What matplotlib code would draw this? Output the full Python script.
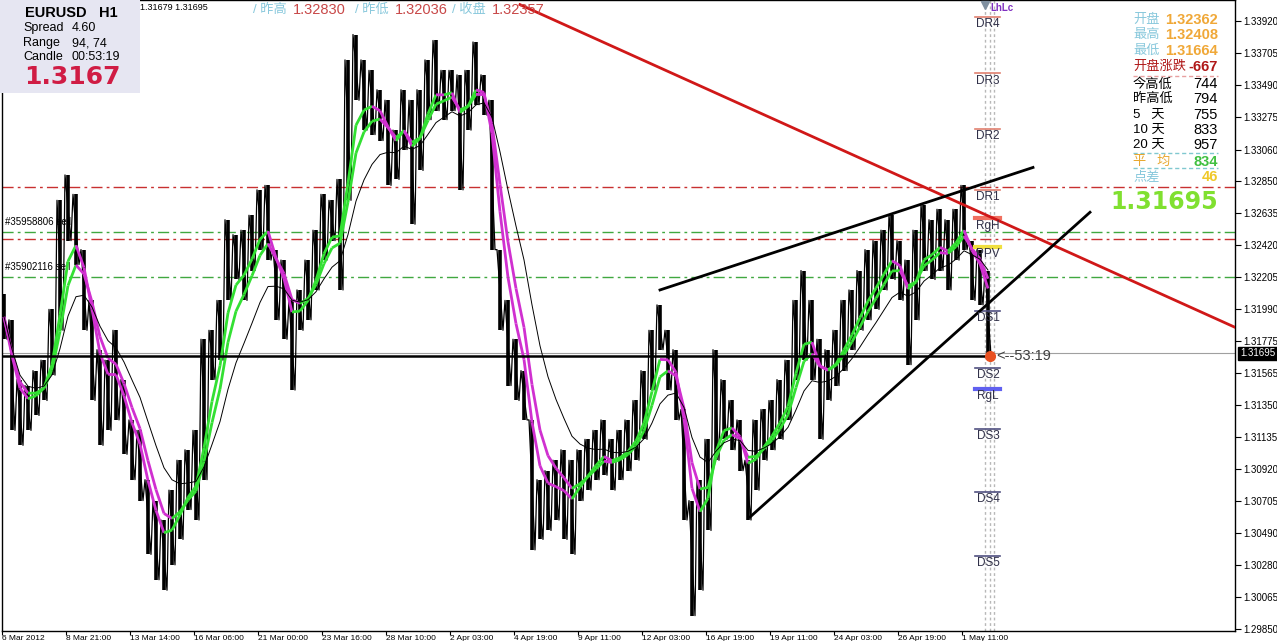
import numpy as np
import pandas as pd
import matplotlib.pyplot as plt
from matplotlib.collections import LineCollection
from matplotlib.patches import Rectangle
import matplotlib.transforms as mtransforms

plt.rcParams['font.family'] = ['Liberation Sans', 'Noto Sans CJK SC', 'DejaVu Sans']

W, H = 1277, 641

# EURUSD H1, each sample = 8 hourly bars (high / low of the group)
high = [1.3209, 1.3192, 1.3152, 1.3148, 1.3158, 1.3165, 1.3199, 1.3272, 1.3289, 1.3276,
        1.3239, 1.3205, 1.3172, 1.3165, 1.3185, 1.3152, 1.3125, 1.3118, 1.3085, 1.3071,
        1.3058, 1.3078, 1.3098, 1.3105, 1.3118, 1.3179, 1.3185, 1.3205, 1.3259, 1.3249,
        1.3252, 1.3262, 1.3279, 1.3282, 1.3239, 1.3232, 1.3205, 1.3212, 1.3232, 1.3252,
        1.3276, 1.3272, 1.3286, 1.3366, 1.3383, 1.3366, 1.3359, 1.3346, 1.3339, 1.3319,
        1.3346, 1.3339, 1.3346, 1.3366, 1.3379, 1.3359, 1.3359, 1.3356, 1.3359, 1.3378,
        1.3356, 1.3339, 1.3239, 1.3205, 1.3179, 1.3158, 1.3125, 1.3085, 1.3091, 1.3098,
        1.3105, 1.3098, 1.3105, 1.3112, 1.3118, 1.3125, 1.3112, 1.3118, 1.3125, 1.3138,
        1.3158, 1.3185, 1.3202, 1.3185, 1.3172, 1.3132, 1.3071, 1.3085, 1.3112, 1.3172,
        1.3152, 1.3138, 1.3125, 1.3098, 1.3125, 1.3132, 1.3138, 1.3152, 1.3165, 1.3205,
        1.3225, 1.3205, 1.3179, 1.3172, 1.3185, 1.3205, 1.3212, 1.3225, 1.3239, 1.3245,
        1.3252, 1.3262, 1.3245, 1.3232, 1.3252, 1.3269, 1.3259, 1.3266, 1.3259, 1.3266,
        1.3282, 1.3245, 1.3239, 1.3225]
low = [1.3179, 1.3118, 1.3108, 1.3118, 1.3128, 1.3138, 1.3155, 1.3185, 1.3245, 1.3229,
       1.3185, 1.3138, 1.3108, 1.3118, 1.3125, 1.3102, 1.3085, 1.3071, 1.3035, 1.3018,
       1.3011, 1.3028, 1.3045, 1.3065, 1.3058, 1.3085, 1.3152, 1.3165, 1.3205, 1.3219,
       1.3205, 1.3225, 1.3239, 1.3232, 1.3192, 1.3179, 1.3145, 1.3185, 1.3192, 1.3212,
       1.3232, 1.3245, 1.3212, 1.3272, 1.3339, 1.3319, 1.3316, 1.3312, 1.3282, 1.3286,
       1.3306, 1.3256, 1.3292, 1.3326, 1.3332, 1.3326, 1.3332, 1.3279, 1.3319, 1.3336,
       1.3329, 1.3239, 1.3185, 1.3148, 1.3138, 1.3125, 1.3038, 1.3045, 1.3051, 1.3058,
       1.3045, 1.3035, 1.3071, 1.3078, 1.3085, 1.3088, 1.3078, 1.3085, 1.3091, 1.3098,
       1.3112, 1.3145, 1.3172, 1.3145, 1.3125, 1.3058, 1.2994, 1.3011, 1.3051, 1.3098,
       1.3112, 1.3105, 1.3091, 1.3058, 1.3078, 1.3098, 1.3105, 1.3112, 1.3125, 1.3152,
       1.3165, 1.3152, 1.3112, 1.3138, 1.3148, 1.3158, 1.3172, 1.3185, 1.3192, 1.3199,
       1.3212, 1.3219, 1.3205, 1.3162, 1.3192, 1.3225, 1.3219, 1.3225, 1.3212, 1.3232,
       1.3239, 1.3205, 1.3202, 1.3168]

price_ticks = [1.33920, 1.33705, 1.33490, 1.33275, 1.33060, 1.32850, 1.32635, 1.32420,
               1.32205, 1.31990, 1.31775, 1.31565, 1.31350, 1.31135, 1.30920, 1.30705,
               1.30490, 1.30280, 1.30065, 1.29850]
time_labels = ['6 Mar 2012', '8 Mar 21:00', '13 Mar 14:00', '16 Mar 06:00', '21 Mar 00:00',
               '23 Mar 16:00', '28 Mar 10:00', '2 Apr 03:00', '4 Apr 19:00', '9 Apr 11:00',
               '12 Apr 03:00', '16 Apr 19:00', '19 Apr 11:00', '24 Apr 03:00', '26 Apr 19:00',
               '1 May 11:00']
time_bars = [2, 66, 130, 194, 258, 322, 386, 450, 514, 578, 642, 706, 770, 834, 898, 962]

pivot_names = ['DR4', 'DR3', 'DR2', 'DR1', 'RgH', 'PPV', 'DS1', 'DS2', 'RgL', 'DS3', 'DS4', 'DS5']
pivot_levels = [1.3395, 1.3357, 1.3320, 1.3279, 1.3260, 1.3241, 1.3198, 1.3160, 1.3146,
                1.3119, 1.3077, 1.3034]
pivot_colors = ['#e08070', '#e08070', '#e08070', '#e08070', '#f07060', '#f0e040',
                '#505080', '#505080', '#6060f0', '#505080', '#505080', '#505080']

# order / reference lines
hlines_price = [1.3281, 1.3251, 1.3246, 1.3221]
hlines_color = ['#c83030', '#40a840', '#c83030', '#40a840']

bid = 1.31695
last_line = 1.3168

trend_red = ([520, 1235], [1.3403, 1.3187])
wedge_top = ([660, 1033], [1.3212, 1.3294])
wedge_bot = ([750, 1090], [1.3060, 1.3264])

fig = plt.figure(figsize=(W / 100, H / 100), dpi=100)
ax = fig.add_axes([2 / W, 10 / H, 1233 / W, 631 / H])
ax.set_xlim(2, 1235)
ax.set_ylim(1.29837, 1.34061)

hi = np.array(high)
lo = np.array(low)
x = np.arange(len(hi)) * 8 + 4

# bars: narrow block per group plus a saw line between highs and lows
ax.vlines(x, lo, hi, color='black', lw=2.6, zorder=3)
zx = np.column_stack([x - 3, x + 3]).ravel()
zy = np.column_stack([hi, lo]).ravel()
ax.plot(zx, zy, color='black', lw=0.9, zorder=3)

# moving averages on median price, coloured by slope
med = pd.Series((hi + lo) / 2)


def slope_line(vals, lw):
    pts = np.column_stack([x, vals])
    segs = np.stack([pts[:-1], pts[1:]], axis=1)
    cols = ['#33e033' if b >= a else '#d030d0' for a, b in zip(vals[:-1], vals[1:])]
    ax.add_collection(LineCollection(segs, colors=cols, linewidths=lw, zorder=4))


slope_line(med.ewm(span=3).mean().values, 2)
slope_line(med.ewm(span=4.5).mean().values, 2)
ax.plot(x, med.ewm(span=9).mean().values, color='black', lw=0.7, zorder=4)

# horizontal reference lines
for p, c in zip(hlines_price, hlines_color):
    ax.axhline(p, color=c, lw=1, ls=(0, (8, 3, 2, 3)), zorder=2)
ax.text(5, 1.3254, '#35958806 sell', fontsize=7, va='bottom', zorder=2)
ax.text(5, 1.3224, '#35902116 sell', fontsize=7, va='bottom', zorder=2)

ax.axhline(bid, color='#a0a0a0', lw=0.8, zorder=2)
ax.plot([2, 986], [last_line, last_line], color='black', lw=1.8, zorder=5)

# trend lines
ax.plot(*trend_red, color='#d01818', lw=2, zorder=6)
ax.plot(*wedge_top, color='black', lw=2, zorder=6)
ax.plot(*wedge_bot, color='black', lw=2, zorder=6)

# pivot levels
for xv in [985, 990, 994]:
    ax.axvline(xv, color='#b8b8b8', lw=1, ls=(0, (2, 2)), zorder=1)
for name, lv, c in zip(pivot_names, pivot_levels, pivot_colors):
    lw = 3 if name in ('RgH', 'RgL', 'PPV') else 1.2
    ax.plot([975, 1000], [lv, lv], color=c, lw=lw, zorder=5)
    ax.text(988, lv - 0.0001, name, ha='center', va='top', fontsize=8.5,
            color='#303048', zorder=7)

ax.plot(990, last_line, 'o', color='#e85020', ms=7, zorder=8)
ax.text(996, last_line, '<--53:19', fontsize=10.5, va='center', color='#404040', zorder=8)
ax.plot(985, 1.3403, 'v', color='#8090a0', ms=6, zorder=8, clip_on=False)
ax.text(990, 1.3399, 'LhLc', fontsize=7, color='#8030c0', fontweight='bold', zorder=8)

# axes
for s in ax.spines.values():
    s.set_color('black')
    s.set_linewidth(1)
ax.yaxis.tick_right()
ax.set_yticks(price_ticks)
ax.set_yticklabels([f'{v:.5f}' for v in price_ticks], fontsize=7)
ax.tick_params(axis='y', length=4, pad=2)
ax.set_xticks(time_bars)
ax.set_xticklabels(time_labels, fontsize=6, ha='left')
ax.tick_params(axis='x', length=3, pad=0)

blend = mtransforms.blended_transform_factory(ax.transAxes, ax.transData)
ax.text(1.004, bid, '1.31695', transform=blend, fontsize=7, color='white', va='center',
        bbox=dict(fc='black', ec='black', pad=1.2), zorder=9)


def px(xp, yp):
    return xp / W, 1 - yp / H


# info box top-left
fig.add_artist(Rectangle((0, 1 - 93 / H), 140 / W, 93 / H, transform=fig.transFigure,
                         fc='#e6e6f2', ec='none', zorder=5))
fig.text(*px(25, 13), 'EURUSD   H1', fontsize=10.5, fontweight='bold', va='center', zorder=6)
fig.text(*px(23, 28), 'Spread', fontsize=9, va='center', zorder=6)
fig.text(*px(72, 28), '4.60', fontsize=9, va='center', zorder=6)
fig.text(*px(23, 43), 'Range', fontsize=9, va='center', zorder=6)
fig.text(*px(72, 43), '94, 74', fontsize=9, va='center', zorder=6)
fig.text(*px(23, 57), 'Candle', fontsize=9, va='center', zorder=6)
fig.text(*px(72, 57), '00:53:19', fontsize=9, va='center', zorder=6)
fig.text(*px(24, 77), '1.3167', fontsize=18, fontweight='bold', color='#d01c44',
         family='DejaVu Sans', va='center', zorder=6)
fig.text(*px(140, 8), '1.31679 1.31695', fontsize=6.5, va='center', zorder=6)

# header
hdr = [('/ 昨高', '1.32830', 253), ('/ 昨低', '1.32036', 355), ('/ 收盘', '1.32357', 452)]
for lab, val, xp in hdr:
    fig.text(*px(xp, 10), lab, fontsize=9.5, color='#88c8dc', va='center', zorder=6)
    fig.text(*px(xp + 40, 10), val, fontsize=10.5, color='#c84848', va='center', zorder=6)

# right info panel
rows = [('开盘', '1.32362', 20, '#88c8dc', '#f0a838', True),
        ('最高', '1.32408', 35, '#88c8dc', '#f0a838', True),
        ('最低', '1.31664', 51, '#88c8dc', '#f0a838', True),
        ('开盘涨跌', '-667', 67, '#b01818', '#b01818', True),
        ('今高低', '744', 84, 'black', 'black', False),
        ('昨高低', '794', 99, 'black', 'black', False),
        ('5   天', '755', 115, 'black', 'black', False),
        ('10 天', '833', 130, 'black', 'black', False),
        ('20 天', '957', 145, 'black', 'black', False),
        ('平   均', '834', 162, '#e8a830', '#40c040', True),
        ('点差', '46', 177, '#88c8dc', '#f0c828', True)]
for lab, val, yp, lc, vc, bold in rows:
    fig.text(*px(1133, yp), lab, fontsize=9.5, color=lc, va='center', zorder=6)
    fig.text(*px(1218, yp), val, fontsize=10.5, color=vc, va='center', ha='right',
             fontweight='bold' if bold else 'normal', zorder=6)
for yp, c in [(76, '#e8a0a0'), (153, '#80c8d0'), (168, '#80c8d0')]:
    fig.add_artist(plt.Line2D([1133 / W, 1218 / W], [1 - yp / H] * 2, transform=fig.transFigure,
                              color=c, lw=1, ls=(0, (3, 2)), zorder=6))
fig.text(*px(1218, 202), '1.31695', fontsize=17, fontweight='bold', color='#80e030',
         family='DejaVu Sans', va='center', ha='right', zorder=6)

fig.savefig('out.png', dpi=100)
